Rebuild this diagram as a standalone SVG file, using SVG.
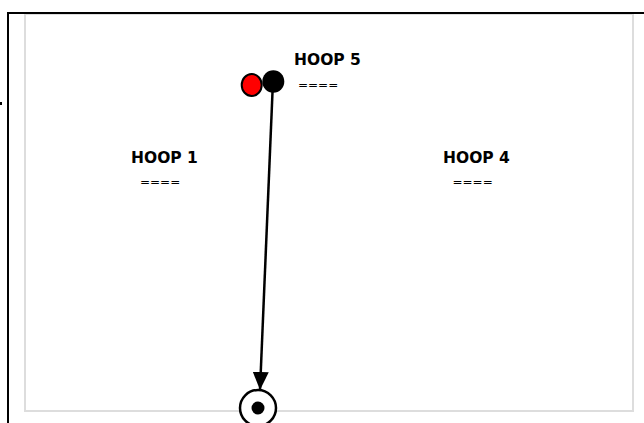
<svg xmlns="http://www.w3.org/2000/svg" width="644" height="423" viewBox="0 0 644 423">
<style>
.lbl{font-family:"DejaVu Sans",Verdana,sans-serif;font-weight:bold;font-size:15.5px;fill:#000}
.eq{font-family:"DejaVu Sans",Verdana,sans-serif;font-size:12px;fill:#000}
</style>
<defs>
<marker id="arr" markerWidth="18" markerHeight="16" viewBox="0 0 18 16" refX="18" refY="8" orient="auto" markerUnits="userSpaceOnUse">
<path d="M0,0 L18,8 L0,16 z" fill="#000"/>
</marker>
</defs>
<rect width="644" height="423" fill="#fff"/>
<g id="frame">
<rect x="25" y="14" width="608" height="397" fill="none" stroke="#ddd" stroke-width="2"/>
<path d="M8,423 V13 H644" fill="none" stroke="#000" stroke-width="2"/>
<rect x="0" y="102" width="2" height="3" fill="#000"/>
</g>
<g id="connectors">
<line x1="272.5" y1="92" x2="260" y2="390" stroke="#000" stroke-width="2.5" marker-end="url(#arr)"/>
</g>
<g id="marker-red"><ellipse cx="251.7" cy="85" rx="10" ry="11" fill="#f00" stroke="#000" stroke-width="2"/></g>
<g id="marker-black"><ellipse cx="273.3" cy="81.5" rx="11" ry="11.3" fill="#000"/></g>
<g id="target"><circle cx="258" cy="408" r="18" fill="#fff" stroke="#000" stroke-width="2.5"/><circle cx="258" cy="408" r="6.5" fill="#000"/></g>
<g id="hoop5"><text class="lbl" x="294" y="65">HOOP 5</text><text class="eq" x="298" y="88.5">====</text></g>
<g id="hoop1"><text class="lbl" x="131" y="163.3">HOOP 1</text><text class="eq" x="140" y="186">====</text></g>
<g id="hoop4"><text class="lbl" x="443" y="163.3">HOOP 4</text><text class="eq" x="452.5" y="186">====</text></g>
</svg>
